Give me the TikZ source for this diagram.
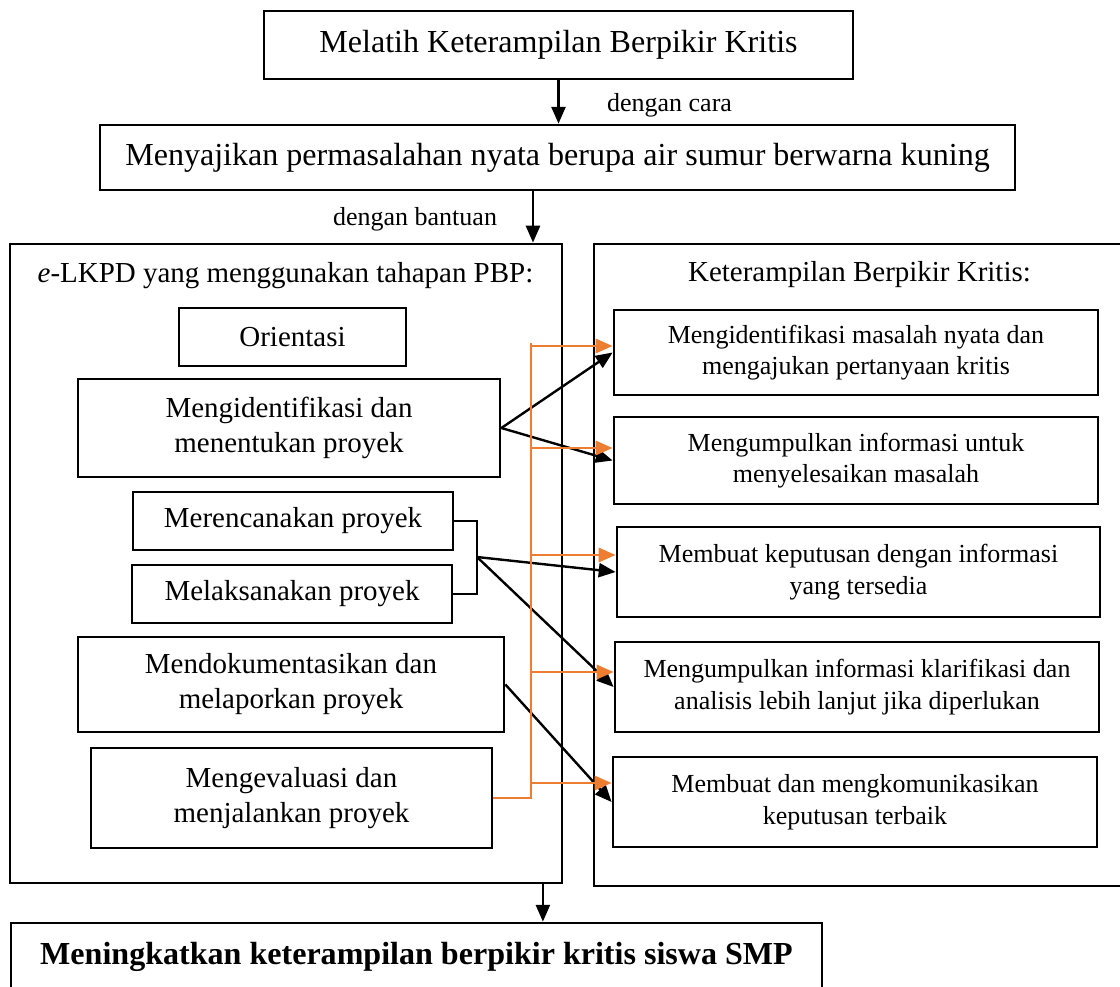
\documentclass[tikz,border=0pt]{standalone}
\usepackage{fontspec}
\setmainfont{Liberation Serif}
\usepackage{tikz}
\usetikzlibrary{arrows.meta,calc}
\usepackage{xcolor}
\definecolor{link}{HTML}{ED7D31}

\begin{document}
\begin{tikzpicture}[x=0.025cm,y=-0.025cm,
  kotak/.style={draw,line width=1.9pt,align=center,inner sep=0pt},
  bigfont/.style={font=\fontsize{22.8}{27}\selectfont},
  midfont/.style={font=\fontsize{20.6}{24.9}\selectfont},
  smallfont/.style={font=\fontsize{18.5}{22.5}\selectfont},
  arr/.style={line width=1.7pt,-{Triangle[length=12pt,width=10pt]}},
  oarr/.style={link,line width=2pt,-{Triangle[length=12pt,width=10pt]}}]
  \useasboundingbox (0,0) rectangle (1120,987);

  % Top
  \node[kotak,bigfont,minimum width=14.725cm,minimum height=1.7cm] (melatih) at (558.5,45) {Melatih Keterampilan Berpikir Kritis};
  \node[kotak,bigfont,minimum width=22.875cm,minimum height=1.625cm] (sajian) at (557.5,157.5) {Menyajikan permasalahan nyata berupa air sumur berwarna kuning};
  \node[smallfont] (cara) at (669.5,105) {dengan cara};
  \node[smallfont] (bantuan) at (415,219) {dengan bantuan};

  % Containers
  \node[kotak,minimum width=13.8cm,minimum height=15.975cm] (lkpd) at (286,563.5) {};
  \node[kotak,minimum width=13.65cm,minimum height=16.05cm] (ket) at (867,565) {};
  \node[midfont] (lkpdjudul) at (285.5,276) {\textit{e}-LKPD yang menggunakan tahapan PBP:};
  \node[midfont] (ketjudul) at (859.5,275) {Keterampilan Berpikir Kritis:};

  % PBP stages
  \node[kotak,midfont,minimum width=5.675cm,minimum height=1.45cm] (orientasi) at (292.5,337) {Orientasi};
  \node[kotak,midfont,minimum width=10.55cm,minimum height=2.45cm] (ident) at (289,428) {Mengidentifikasi dan\\menentukan proyek};
  \node[kotak,midfont,minimum width=8cm,minimum height=1.45cm] (renc) at (293,521) {Merencanakan proyek};
  \node[kotak,midfont,minimum width=8cm,minimum height=1.45cm] (laks) at (292,594) {Melaksanakan proyek};
  \node[kotak,midfont,minimum width=10.65cm,minimum height=2.375cm] (doku) at (291,684.5) {Mendokumentasikan dan\\melaporkan proyek};
  \node[kotak,midfont,minimum width=10.025cm,minimum height=2.5cm] (evaluasi) at (291.5,798) {Mengevaluasi dan\\menjalankan proyek};

  % Critical thinking skills
  \node[kotak,smallfont,minimum width=12.1cm,minimum height=2.125cm] (tanya) at (856,352.5) {Mengidentifikasi masalah nyata dan\\mengajukan pertanyaan kritis};
  \node[kotak,smallfont,minimum width=12.1cm,minimum height=2.175cm] (info) at (856,460.5) {Mengumpulkan informasi untuk\\menyelesaikan masalah};
  \node[kotak,smallfont,minimum width=12.075cm,minimum height=2.25cm] (putus) at (858.5,572) {Membuat keputusan dengan informasi\\yang tersedia};
  \node[kotak,smallfont,minimum width=12.1cm,minimum height=2.25cm] (klarif) at (857,687) {Mengumpulkan informasi klarifikasi dan\\analisis lebih lanjut jika diperlukan};
  \node[kotak,smallfont,minimum width=12.1cm,minimum height=2.25cm] (komunik) at (855,802) {Membuat dan mengkomunikasikan\\keputusan terbaik};

  % Result
  \node[kotak,font=\fontsize{22.8}{27}\selectfont\bfseries,minimum width=20.275cm,minimum height=1.675cm] (hasil) at (416.5,956.5) {Meningkatkan keterampilan berpikir kritis siswa SMP};

  % Flow down
  \draw[arr] (melatih.south) -- (melatih.south |- sajian.north);
  \coordinate (turun) at ([xshift=-0.6125cm]sajian.south);
  \draw[arr] (turun) -- (turun |- lkpd.north);
  \coordinate (keluar) at ([xshift=-0.5125cm]lkpd.south east);
  \draw[arr] (keluar) -- (keluar |- hasil.north);

  % Black links
  \draw[arr] (ident.east) -- (tanya.west);
  \draw[arr] (ident.east) -- (info.west);
  \coordinate (kurung) at (477,557);
  \draw[line width=1.7pt] (renc.east) -| (kurung) |- (laks.east);
  \draw[arr] (kurung) -- (putus.west);
  \draw[arr] (kurung) -- (klarif.west);
  \draw[arr] (doku.east) -- (komunik.west);

  % Orange bus
  \coordinate (bus) at (531,343);
  \draw[link,line width=2pt] (evaluasi.east) -| (bus);
  \foreach \sasaran/\naik in {tanya/6.5,info/12.5,putus/17,klarif/15,komunik/19}{
    \coordinate (ujung) at ([yshift=\naik*0.025cm]\sasaran.west);
    \draw[oarr] (ujung -| bus) -- (ujung);
  }
\end{tikzpicture}
\end{document}
